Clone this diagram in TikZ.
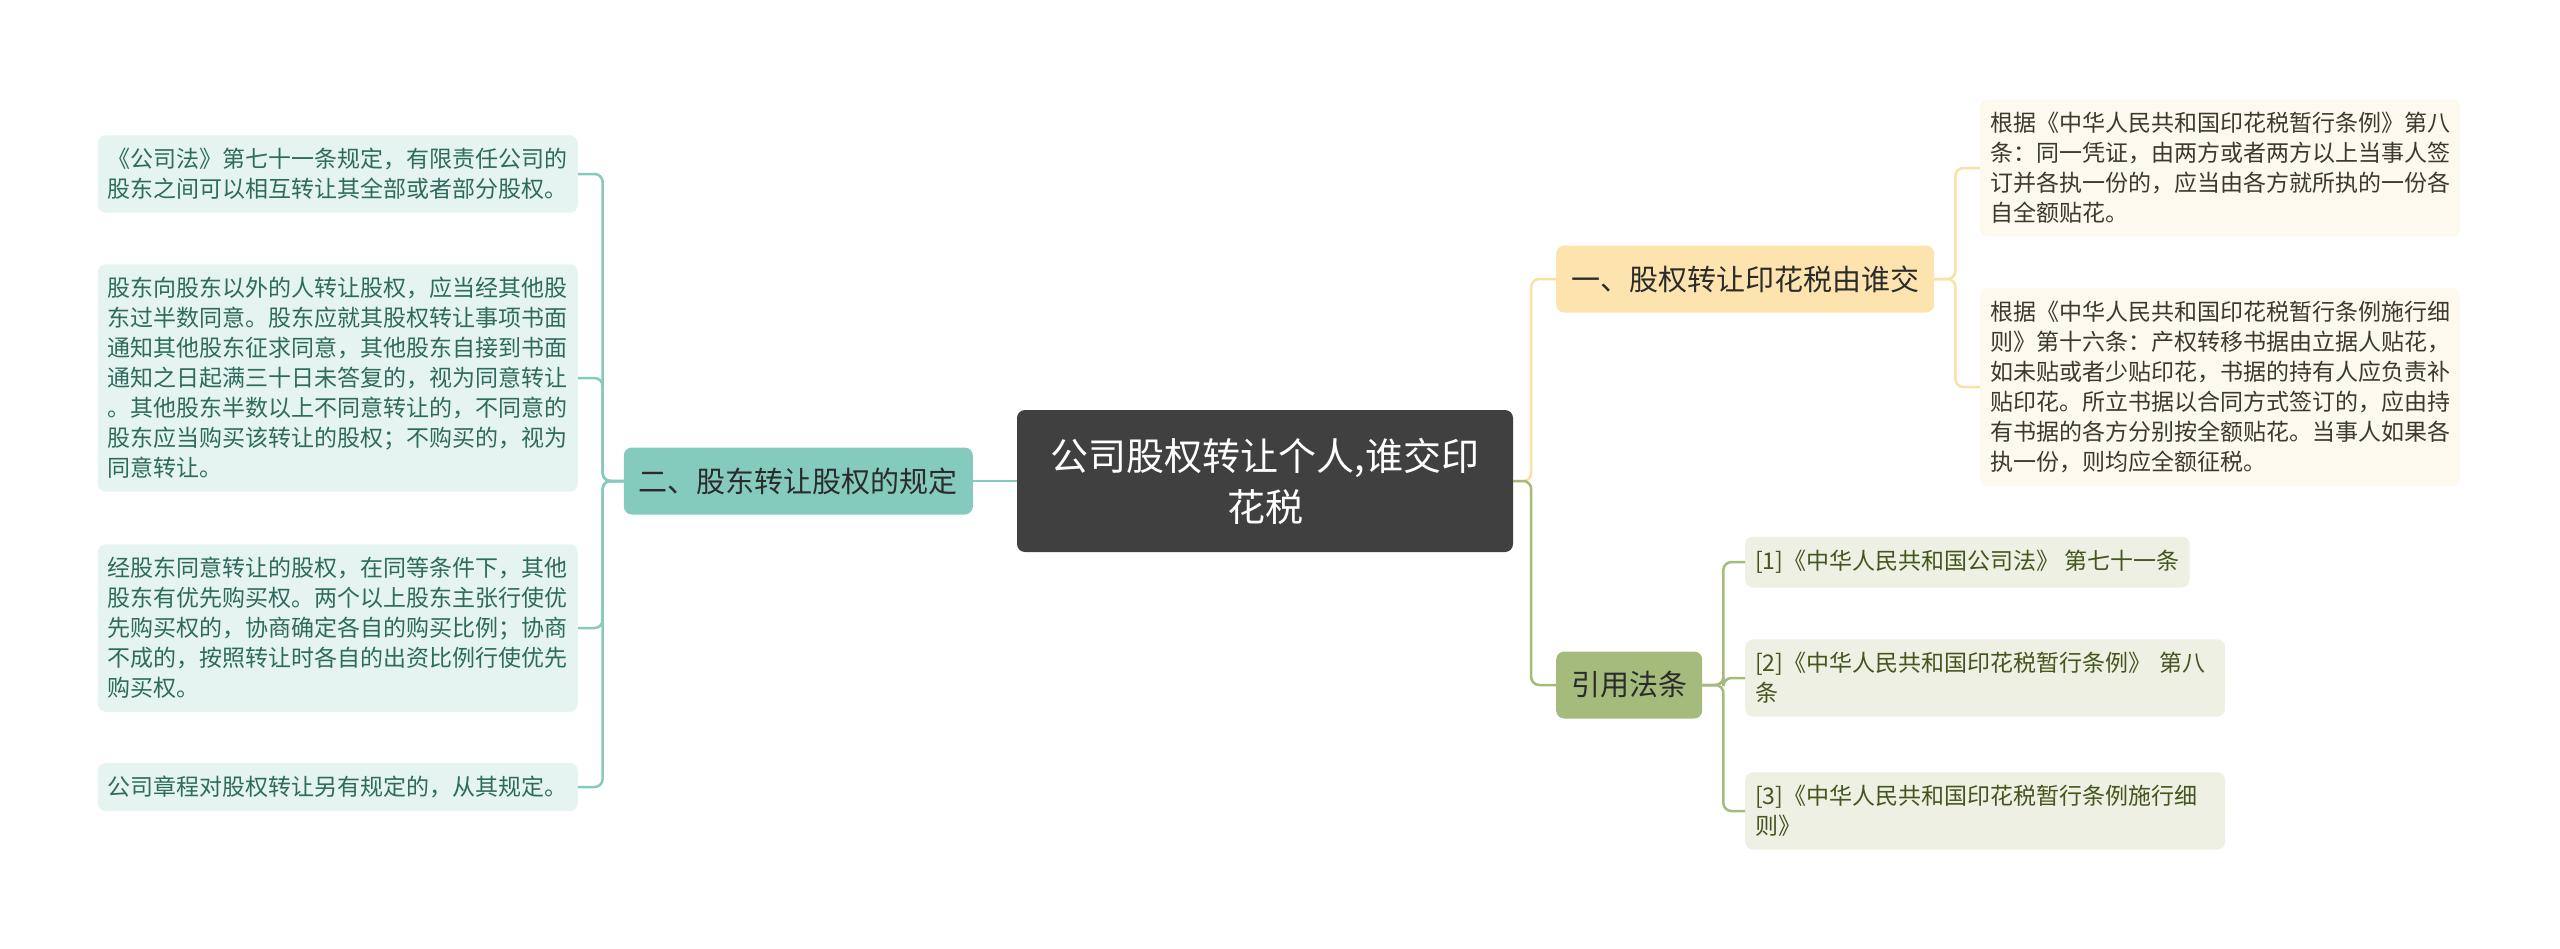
\documentclass[tikz,border=0pt]{standalone}
\usepackage{fontspec}
\setmainfont{Noto Sans CJK SC}
\usepackage{xcolor}
\usepackage{tikz}
\usetikzlibrary{positioning}

\definecolor{rootgray}{HTML}{404040}
\definecolor{subtext}{HTML}{2B2B2B}
\definecolor{tealsub}{HTML}{84CBBD}
\definecolor{tealleaf}{HTML}{E5F4F0}
\definecolor{tealtext}{HTML}{2E6B5C}
\definecolor{orangesub}{HTML}{FDE4AE}
\definecolor{orangeline}{HTML}{FBE0A6}
\definecolor{creamleaf}{HTML}{FEF9EE}
\definecolor{creamtext}{HTML}{3A3A30}
\definecolor{greensub}{HTML}{A5BB7B}
\definecolor{citeleaf}{HTML}{EDF0E2}
\definecolor{citetext}{HTML}{45551F}

\begin{document}
\begin{tikzpicture}[
    x=1pt, y=-1pt,
    box/.style={rounded corners=8pt, inner xsep=10pt, align=left},
    topic/.style={box, fill=rootgray, text=white, align=center,
                  minimum width=496pt, minimum height=142pt,
                  font=\fontsize{38}{51}\selectfont},
    sub/.style={box, inner xsep=15pt, minimum height=67pt, text=subtext,
                font=\fontsize{29}{36}\selectfont},
    steal/.style={sub, fill=tealsub},
    sorange/.style={sub, fill=orangesub},
    sgreen/.style={sub, fill=greensub},
    card/.style={box, inner ysep=13pt, font=\fontsize{23}{30}\selectfont},
    leaf/.style={card, text width=460pt},
    lteal/.style={leaf, fill=tealleaf, text=tealtext},
    lcream/.style={leaf, fill=creamleaf, text=creamtext},
    lcite/.style={leaf, fill=citeleaf, text=citetext},
    ccite/.style={card, fill=citeleaf, text=citetext, minimum height=51pt},
    link/.style={line width=2.5pt, rounded corners=8pt},
    ]
\useasboundingbox (0,0) rectangle (2560,948);

% central topic
\node[topic] (root) at (1265,481) {公司股权转让个人,谁交印\\花税};

% main branches
\node[steal, anchor=east] (b2) at (973,481) {二、股东转让股权的规定};
\node[sorange, anchor=west] (b1) at (1556,279) {一、股权转让印花税由谁交};
\node[sgreen, anchor=west] (b3) at (1556,685) {引用法条};

% left leaves
\node[lteal, anchor=east] (l1) at (578,174)
     {《公司法》第七十一条规定，有限责任公司的\\股东之间可以相互转让其全部或者部分股权。};
\node[lteal, anchor=east] (l2) at (578,378)
     {股东向股东以外的人转让股权，应当经其他股\\东过半数同意。股东应就其股权转让事项书面\\通知其他股东征求同意，其他股东自接到书面\\通知之日起满三十日未答复的，视为同意转让\\。其他股东半数以上不同意转让的，不同意的\\股东应当购买该转让的股权；不购买的，视为\\同意转让。};
\node[lteal, anchor=east] (l3) at (578,628)
     {经股东同意转让的股权，在同等条件下，其他\\股东有优先购买权。两个以上股东主张行使优\\先购买权的，协商确定各自的购买比例；协商\\不成的，按照转让时各自的出资比例行使优先\\购买权。};
\node[lteal, anchor=east] (l4) at (578,787)
     {公司章程对股权转让另有规定的，从其规定。};

% right leaves
\node[lcream, anchor=west] (r1) at (1980,168)
     {根据《中华人民共和国印花税暂行条例》第八\\条：同一凭证，由两方或者两方以上当事人签\\订并各执一份的，应当由各方就所执的一份各\\自全额贴花。};
\node[lcream, anchor=west] (r2) at (1980,387)
     {根据《中华人民共和国印花税暂行条例施行细\\则》第十六条：产权转移书据由立据人贴花，\\如未贴或者少贴印花，书据的持有人应负责补\\贴印花。所立书据以合同方式签订的，应由持\\有书据的各方分别按全额贴花。当事人如果各\\执一份，则均应全额征税。};

% cited laws
\node[ccite, anchor=west] (c1) at (1745,562)
     {[1]《中华人民共和国公司法》 第七十一条};
\node[lcite, anchor=west] (c2) at (1745,678)
     {[2]《中华人民共和国印花税暂行条例》 第八\\条};
\node[lcite, anchor=west] (c3) at (1745,811)
     {[3]《中华人民共和国印花税暂行条例施行细\\则》};

% connectors
\draw[link, tealsub] (root.west) -- (b2.east);
\foreach \n in {l1,l2,l3,l4}
    \draw[link, tealsub] (b2.west) -- ++(-21,0) |- (\n.east);
\draw[link, orangeline] (root.east) -- ++(18,0) |- (b1.west);
\draw[link, greensub] (root.east) -- ++(18,0) |- (b3.west);
\foreach \n in {r1,r2}
    \draw[link, orangeline] (b1.east) -- ++(21,0) |- (\n.west);
\foreach \n in {c1,c2,c3}
    \draw[link, greensub] (b3.east) -- ++(21,0) |- (\n.west);
\end{tikzpicture}
\end{document}
